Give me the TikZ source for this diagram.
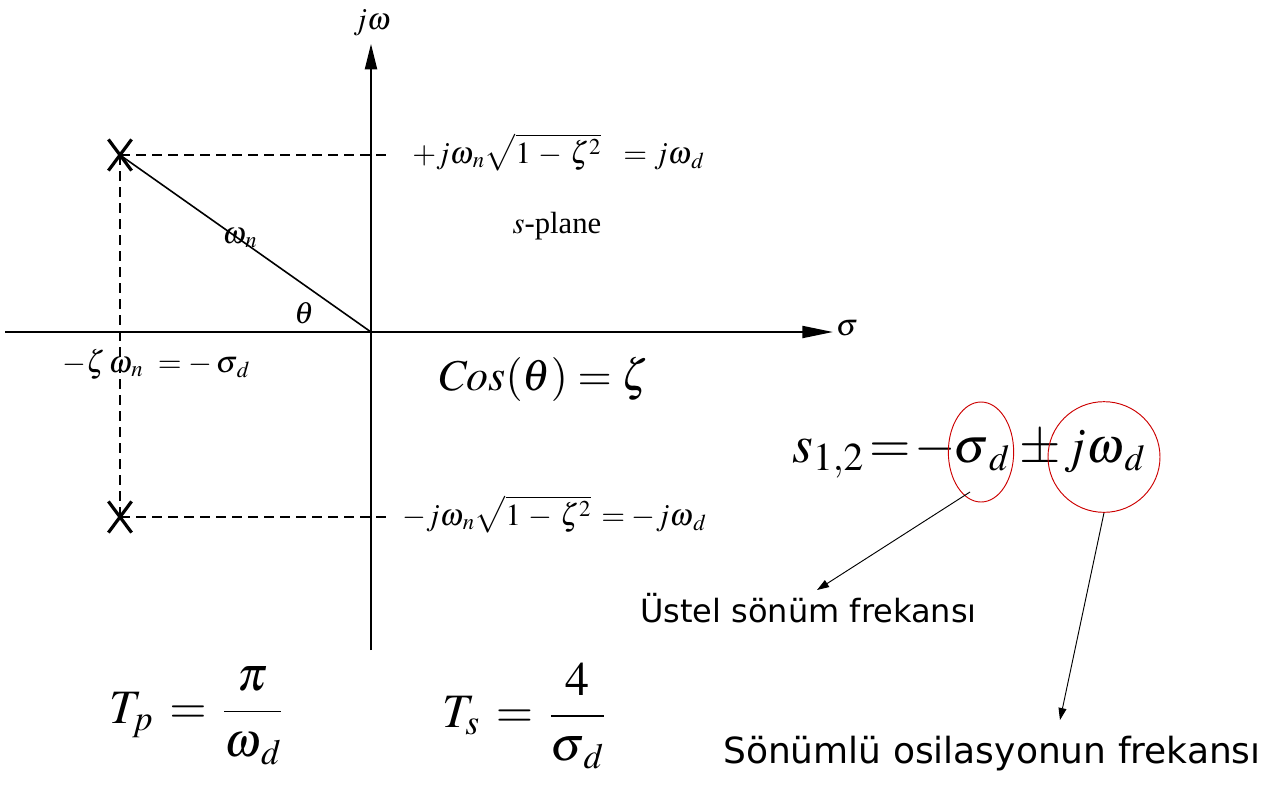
\documentclass[tikz,border=0pt]{standalone}
\usepackage{amsmath}
\usepackage{mathptmx}
\usepackage{fontspec}
\setmainfont{Liberation Serif}
\newfontfamily\vsans{DejaVu Sans}
\usetikzlibrary{arrows.meta,shapes.misc,shapes.geometric}
\newcommand{\fs}[1]{\fontsize{#1}{#1}\selectfont}
\newcommand{\omn}{\omega_{\mkern1.5mu n}}
\newcommand{\omd}{\omega_{\mkern2mu d}}
\newcommand{\sgd}{\sigma_{\mkern2mu d}}
\begin{document}
\begin{tikzpicture}[x=0.75pt,y=-0.75pt,
  haxis/.style={line width=1.5pt,-{Triangle[length=23pt,width=9pt]}},
  vaxis/.style={line width=1.5pt,-{Triangle[length=19pt,width=9pt]}},
  guide/.style={dash pattern=on 7.5pt off 4.5pt,line width=0.8pt},
  polemark/.style={cross out,draw,line width=2.4pt,minimum width=15pt,minimum height=21pt,inner sep=0pt},
  ring/.style={ellipse,draw=red!80!black,line width=0.7pt,inner sep=0pt},
  pointer/.style={line width=0.7pt,-{Triangle[length=9pt,width=6pt]}},
  lbl/.style={inner sep=0pt,font=\fs{23}},
  big/.style={inner sep=0pt,font=\fs{33}},
  frac/.style={inner sep=0pt,font=\fs{36}},
  root/.style={inner sep=0pt,anchor=base west,font=\fs{40}},
  rootg/.style={inner sep=0pt,anchor=base west,font=\fs{37}},
  tra/.style={inner sep=0pt,font=\vsans\fs{24}},
  trb/.style={inner sep=0pt,font=\vsans\fs{27}}]
\useasboundingbox (0,0) rectangle (1279,794);
% axes
\coordinate (O) at (371,332);
\coordinate (xs) at (5,332);
\coordinate (xe) at (833,332);
\coordinate (ys) at (371,650);
\coordinate (ye) at (371,44);
\draw[haxis] (xs) -- (xe);
\draw[vaxis] (ys) -- (ye);
\node[lbl] (jw) at (372,23) {$j\omega$};
\node[lbl] (sig) at (847,328) {$\sigma$};
% poles
\node[polemark] (p1) at (120,155) {};
\node[polemark] (p2) at (120,517) {};
\coordinate (g1) at (386,155);
\coordinate (g2) at (386,517);
\draw[guide] (p1.center) -- (g1);
\draw[guide] (p2.center) -- (g2);
\draw[guide] (p1.center) -- (p2.center);
\draw[line width=1.2pt] (p1.center) -- (O);
% labels
\node[lbl] (wnl) at (240,238) {$\omn$};
\node[lbl] (th) at (304,313) {$\theta$};
\node[lbl,anchor=base west] (re) at (62,372) {$-\zeta\,\omn\ = -\,\sgd$};
\node[lbl,anchor=base west] (top) at (412,163) {$+j\omn\sqrt{1\,-\,\zeta^2}\ \ =j\omd$};
\node[lbl,anchor=base west] (bot) at (402,525) {$-j\omn\sqrt{1\,-\,\zeta^2}\,=-j\omd$};
\node[lbl,anchor=base] (sp) at (557,233) {$s$-plane};
\node[big,anchor=base west] (cos) at (437,390) {$\mathit{Cos}(\theta) = \zeta$};
% roots
\node[root] (rs) at (792,462) {$s_{1,2}$};
\node[root] (req) at (869,462) {$=$};
\node[root] (rmin) at (914,462) {$-$};
\node[rootg] (rsd) at (953,462) {$\sigma_{\mkern3mu d}$};
\node[root] (pm) at (1019,462) {$\pm$};
\node[rootg] (rjw) at (1064,462) {$j\omega_{\mkern2mu d}$};
\node[ring,minimum width=49pt,minimum height=75pt] (e1) at (981,452) {};
\node[ring,minimum width=84pt,minimum height=83pt] (e2) at (1104,457) {};
\coordinate (a1s) at (970,492);
\coordinate (a1e) at (817,590);
\coordinate (a2e) at (1060,720);
\draw[pointer] (a1s) -- (a1e);
\draw[pointer] (e2.south) -- (a2e);
\node[tra,anchor=base west] (t1) at (640,622) {Üstel sönüm frekansı};
\node[trb,anchor=base west] (t2) at (723,763) {Sönümlü osilasyonun frekansı};
% bottom formulas
\node[frac] (tp) at (196,716) {$T_p \,=\, \dfrac{\;\pi\;}{\omd}$};
\node[frac] (ts) at (524,716) {$T_s \,=\, \dfrac{\;4\;}{\sgd}$};
\end{tikzpicture}
\end{document}
